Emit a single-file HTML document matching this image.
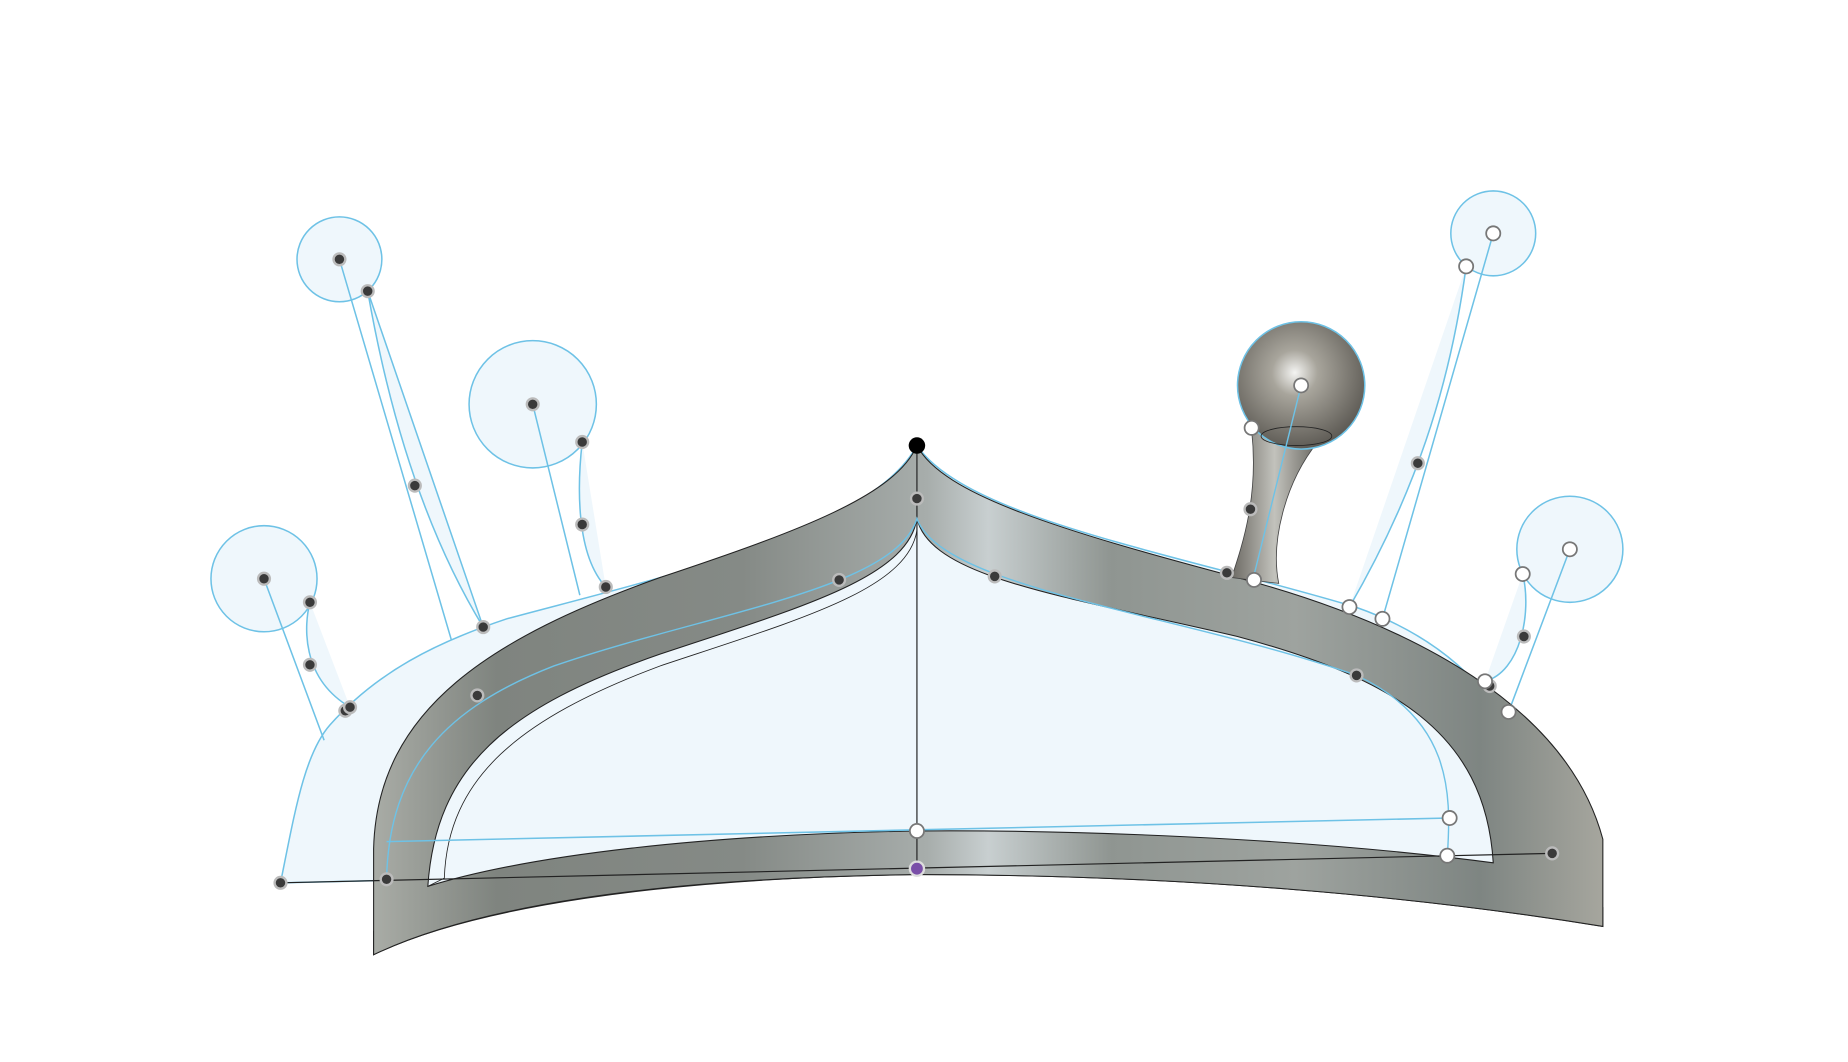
<!DOCTYPE html>
<html><head><meta charset="utf-8"><style>
html,body{margin:0;padding:0;background:#fff;width:1848px;height:1062px;overflow:hidden}
svg{display:block}
</style></head><body>
<svg width="1848" height="1062" viewBox="0 0 1568 901" preserveAspectRatio="none" xmlns="http://www.w3.org/2000/svg">
<defs>
<linearGradient id="metal" x1="0" x2="1" y1="0" y2="0">
<stop offset="0" stop-color="#a9aca6"/><stop offset="0.1" stop-color="#7f847f"/>
<stop offset="0.3" stop-color="#858a86"/><stop offset="0.45" stop-color="#a7adab"/>
<stop offset="0.5" stop-color="#c8cfd0"/><stop offset="0.6" stop-color="#8f9591"/>
<stop offset="0.75" stop-color="#9ea39f"/><stop offset="0.9" stop-color="#7e8582"/>
<stop offset="1" stop-color="#a6a69e"/></linearGradient>
<linearGradient id="bottom" x1="0" x2="1"><stop offset="0" stop-color="#9e9c95"/><stop offset="0.5" stop-color="#d2d4d0"/><stop offset="1" stop-color="#9a978f"/></linearGradient>
<radialGradient id="ball" cx="0.45" cy="0.4" r="0.6"><stop offset="0" stop-color="#f4f4f2"/><stop offset="0.3" stop-color="#a8a59c"/><stop offset="1" stop-color="#5e5b55"/></radialGradient>
<linearGradient id="stem" x1="0" x2="1"><stop offset="0" stop-color="#6c6a64"/><stop offset="0.5" stop-color="#c2c2bc"/><stop offset="1" stop-color="#6a6862"/></linearGradient>
</defs>
<g fill="#eff7fc" stroke="#6ec2e6" stroke-width="1.3">
<path d="M238,749 C250,690 258,640 280,615 C320,570 370,545 430,525 C560,490 740,450 778,378 C820,440 1000,470 1150,515 C1250,550 1300,620 1317,724 Z"/>
<circle cx="288" cy="220" r="36"/>
<circle cx="452" cy="343" r="54"/>
<circle cx="224" cy="491" r="45"/>
<circle cx="1267" cy="198" r="36"/>
<circle cx="1332" cy="466" r="45"/>
<path d="M288,220 L383,543 M312,247 C330,350 360,450 410,532 Z"/>
<path d="M452,343 L492,505 M494,375 C490,410 488,470 514,498"/>
<path d="M224,491 L275,628 M263,511 C258,530 255,575 297,600"/>
<path d="M1267,198 L1173,525 M1244,226 C1230,330 1200,420 1145,515"/>
<path d="M1332,466 L1280,604 M1292,487 C1300,520 1290,570 1260,578"/>
</g>
<path d="M317,790 C420,750 600,735 778,735 C1000,735 1200,750 1360,770 L1360,786 C1200,760 1000,742 778,742 C560,745 400,770 317,810 Z" fill="url(#bottom)" stroke="#222" stroke-width="0.8"/>
<path d="M317,720 C320,600 420,540 560,490 C680,450 760,420 778,378 C800,420 900,450 1050,490 C1200,530 1330,600 1360,712 L1360,786 C1200,760 1000,742 778,742 C550,745 400,770 317,810 Z" fill="url(#metal)" stroke="#222" stroke-width="0.9"/>
<path d="M363,752 C370,650 430,600 560,555 C680,515 770,490 778,440 C790,490 900,505 1050,540 C1180,575 1260,620 1267,732 C1100,710 900,704 778,705 C600,708 450,725 363,752 Z" fill="#eff7fc" stroke="#222" stroke-width="0.9"/>
<path d="M363,752 L377,745 C380,660 440,610 560,565 C680,525 770,500 778,450" fill="none" stroke="#222" stroke-width="0.7"/>
<g>
<path d="M1062,365 C1068,420 1055,460 1045,490 L1085,495 C1078,460 1090,410 1118,375 Z" fill="url(#stem)" stroke="#444" stroke-width="0.7"/>
<circle cx="1104" cy="327" r="54" fill="url(#ball)" stroke="#6ec2e6" stroke-width="1.3"/>
<ellipse cx="1100" cy="370" rx="30" ry="8" fill="none" stroke="#222" stroke-width="0.7"/>
</g>
<g fill="none">
<line x1="778" y1="378" x2="778" y2="737" stroke="#222" stroke-width="1"/>
<line x1="238" y1="749" x2="1317" y2="724" stroke="#222" stroke-width="1"/>
<line x1="328" y1="714" x2="1230" y2="694" stroke="#6ec2e6" stroke-width="1.3"/>
<path d="M328,746 C330,650 380,600 470,565 C600,520 760,500 778,440 C800,500 1000,520 1151,573 C1230,610 1232,670 1228,726" stroke="#6ec2e6" stroke-width="1.2"/>
<path d="M1104,327 L1063,492" stroke="#6ec2e6" stroke-width="1.2"/>
</g>
<g fill="#3a3a3a" stroke="#bbb" stroke-width="2">
<circle cx="288" cy="220" r="5"/><circle cx="312" cy="247" r="5"/><circle cx="352" cy="412" r="5"/><circle cx="410" cy="532" r="5"/>
<circle cx="452" cy="343" r="5"/><circle cx="494" cy="375" r="5"/><circle cx="494" cy="445" r="5"/><circle cx="514" cy="498" r="5"/>
<circle cx="224" cy="491" r="5"/><circle cx="263" cy="511" r="5"/><circle cx="263" cy="564" r="5"/><circle cx="293" cy="603" r="5"/><circle cx="297" cy="600" r="5"/>
<circle cx="238" cy="749" r="5"/><circle cx="328" cy="746" r="5"/><circle cx="405" cy="590" r="5"/><circle cx="712" cy="492" r="5"/>
<circle cx="778" cy="423" r="5"/><circle cx="844" cy="489" r="5"/><circle cx="1151" cy="573" r="5"/><circle cx="1041" cy="486" r="5"/><circle cx="1061" cy="432" r="5"/>
<circle cx="1203" cy="393" r="5"/><circle cx="1293" cy="540" r="5"/><circle cx="1264" cy="582" r="5"/><circle cx="1317" cy="724" r="5"/>
</g>
<circle cx="778" cy="378" r="7" fill="#000"/>
<circle cx="778" cy="737" r="6" fill="#7a4fa8" stroke="#ddd" stroke-width="2"/>
<g fill="#fff" stroke="#777" stroke-width="1.5">
<circle cx="778" cy="705" r="6"/><circle cx="1230" cy="694" r="6"/><circle cx="1228" cy="726" r="6"/>
<circle cx="1267" cy="198" r="6"/><circle cx="1244" cy="226" r="6"/><circle cx="1145" cy="515" r="6"/><circle cx="1173" cy="525" r="6"/>
<circle cx="1332" cy="466" r="6"/><circle cx="1292" cy="487" r="6"/><circle cx="1260" cy="578" r="6"/><circle cx="1280" cy="604" r="6"/>
<circle cx="1104" cy="327" r="6"/><circle cx="1062" cy="363" r="6"/><circle cx="1064" cy="492" r="6"/>
</g>
</svg>
</body></html>
